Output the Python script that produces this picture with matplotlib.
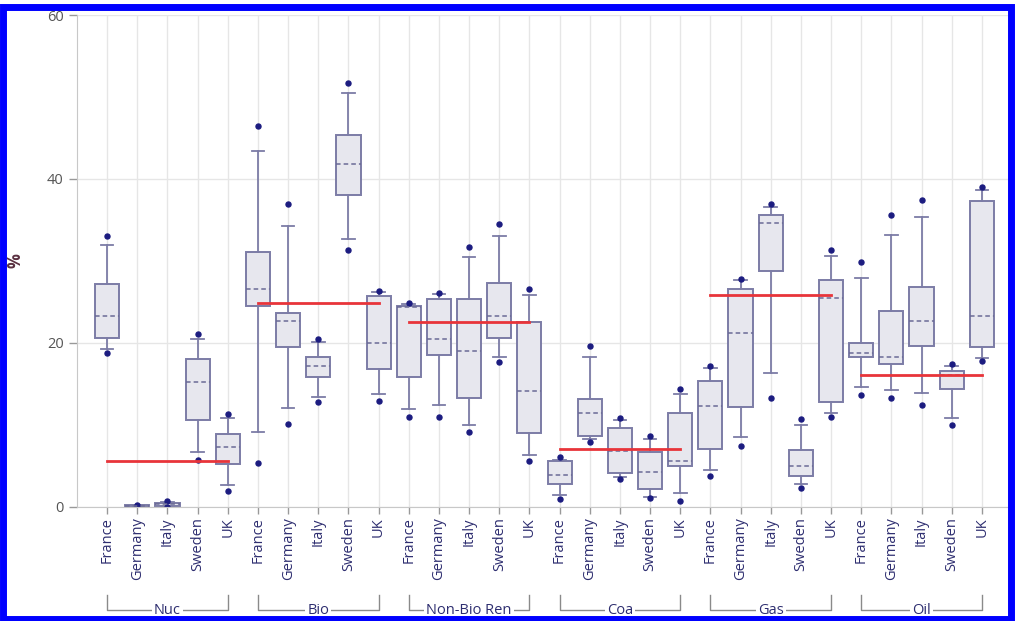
import matplotlib
matplotlib.use("Agg")
import matplotlib.pyplot as plt
from matplotlib.patches import Rectangle
from matplotlib.lines import Line2D

plt.rcParams['font.family'] = ['Open Sans', 'DejaVu Sans']

groups = ["Nuc", "Bio", "Non-Bio Ren", "Coa", "Gas", "Oil"]
countries = ["France", "Germany", "Italy", "Sweden", "UK"]
group_means = [5.6, 24.8, 22.5, 7.0, 25.8, 16.0]

# per box (6 groups x 5 countries), in order
hi_dot = [33.0, 0.2, 0.7, 21.0, 11.3,
          46.4, 36.9, 20.45, 51.7, 26.3,
          24.9, 26.1, 31.7, 34.5, 26.6,
          6.0, 19.55, 10.85, 8.6, 14.3,
          17.15, 27.8, 36.9, 10.7, 31.3,
          29.8, 35.55, 37.4, 17.45, 39.0]
hi_whisker = [31.9, 0.2, 0.6, 20.4, 10.8,
              43.4, 34.2, 20.1, 50.5, 26.15,
              24.7, 25.9, 30.4, 33.0, 25.8,
              5.7, 18.3, 10.6, 8.3, 13.7,
              16.9, 27.6, 36.6, 9.95, 30.55,
              27.85, 33.2, 35.35, 17.15, 38.65]
q3 = [27.2, 0.15, 0.4, 18.05, 8.9,
      31.1, 23.6, 18.3, 45.4, 25.7,
      24.5, 25.3, 25.3, 27.3, 22.5,
      5.5, 13.1, 9.6, 6.6, 11.45,
      15.3, 26.6, 35.6, 6.9, 27.65,
      20.0, 23.9, 26.85, 16.55, 37.3]
median = [23.3, 0.1, 0.3, 15.2, 7.3,
          26.5, 22.6, 17.2, 41.8, 20.0,
          24.4, 20.45, 19.0, 23.3, 14.1,
          3.9, 11.4, 6.8, 4.2, 5.5,
          12.3, 21.2, 34.6, 5.0, 25.5,
          18.7, 18.2, 22.7, 16.0, 23.3]
q1 = [20.6, 0.05, 0.1, 10.5, 5.2,
      24.5, 19.5, 15.85, 38.0, 16.8,
      15.8, 18.5, 13.3, 20.6, 9.0,
      2.8, 8.65, 4.1, 2.1, 4.9,
      7.0, 12.1, 28.75, 3.75, 12.8,
      18.3, 17.45, 19.6, 14.35, 19.45]
lo_whisker = [19.2, 0.0, 0.0, 6.6, 2.6,
              9.1, 12.0, 13.4, 32.7, 13.7,
              11.9, 12.35, 9.95, 18.3, 6.3,
              1.4, 8.2, 3.55, 1.2, 1.6,
              4.4, 8.45, 16.3, 2.7, 11.4,
              14.55, 14.2, 13.8, 10.85, 18.1]
lo_dot = [18.7, 0.1, 0.0, 5.7, 1.85,
          5.3, 10.1, 12.8, 31.3, 12.9,
          10.9, 10.9, 9.1, 17.7, 5.6,
          0.9, 7.85, 3.35, 1.0, 0.7,
          3.7, 7.4, 13.25, 2.3, 10.95,
          13.6, 13.3, 12.35, 9.9, 17.8]

W, H = 1017, 621
fig = plt.figure(figsize=(W / 100, H / 100), dpi=100)
ax = fig.add_axes([77 / W, (H - 506.5) / H, 935 / W, 491.5 / H])

n = len(groups) * len(countries)
positions = list(range(n))
stats = []
for i in range(n):
    stats.append(dict(med=median[i], q1=q1[i], q3=q3[i],
                      whislo=lo_whisker[i], whishi=hi_whisker[i],
                      fliers=[lo_dot[i], hi_dot[i]]))

edge = "#7c7ca6"
ax.bxp(stats, positions=positions, widths=0.8, patch_artist=True,
       showfliers=True,
       boxprops=dict(facecolor="#e7e7ee", edgecolor=edge, linewidth=1.4),
       whiskerprops=dict(color=edge, linewidth=1.3),
       capprops=dict(color=edge, linewidth=1.3),
       capwidths=0.42,
       medianprops=dict(color="#6a6a96", linewidth=1.1, linestyle=(0, (3, 2))),
       flierprops=dict(marker="o", markersize=3.6, markerfacecolor="#1c1c80",
                       markeredgecolor="#1c1c80"))

# group mean lines
for g, m in enumerate(group_means):
    x0 = g * 5
    ax.plot([x0, x0 + 4], [m, m], color="#e8343a", linewidth=2.0, zorder=5)

ax.set_xlim(-1, 30)
ax.set_ylim(0, 60)
ax.set_yticks([0, 20, 40, 60])
ax.set_xticks(positions)
ax.set_xticklabels(countries * len(groups), rotation=90, fontsize=10.5,
                   color="#2e2e70")
ax.tick_params(axis="y", labelsize=10.5, labelcolor="#555555", color="#999999",
               length=6, width=1)
ax.tick_params(axis="x", color="#999999", length=5, width=1, pad=3)
ax.grid(True, color="#e6e6e6", linewidth=1)
ax.set_axisbelow(True)
for s in ["top", "right"]:
    ax.spines[s].set_visible(False)
for s in ["left", "bottom"]:
    ax.spines[s].set_color("#c8c8c8")
ax.set_ylabel("%", fontsize=12, color="#5a3040", fontweight="bold", labelpad=16)

# group brackets
trans = ax.get_xaxis_transform()
y_top, y_bot = -0.180, -0.2106
for g, name in enumerate(groups):
    x0, x1 = g * 5, g * 5 + 4
    ax.add_line(Line2D([x0, x0, x1, x1], [y_top, y_bot, y_bot, y_top],
                       transform=trans, color="#8a8a8a", linewidth=1,
                       clip_on=False))
    ax.text((x0 + x1) / 2, y_bot, name, transform=trans, ha="center",
            va="center", fontsize=10.5, color="#2e2e70",
            bbox=dict(facecolor="white", edgecolor="none", pad=1.5))

# blue border
fig.patches.append(Rectangle((2.5 / W, 2.5 / H), 1 - 5 / W - 4 / W, 1 - 5 / H - 4 / H,
                             transform=fig.transFigure, fill=False,
                             edgecolor="#0000ff", linewidth=5))

fig.savefig("out.png", dpi=100)
